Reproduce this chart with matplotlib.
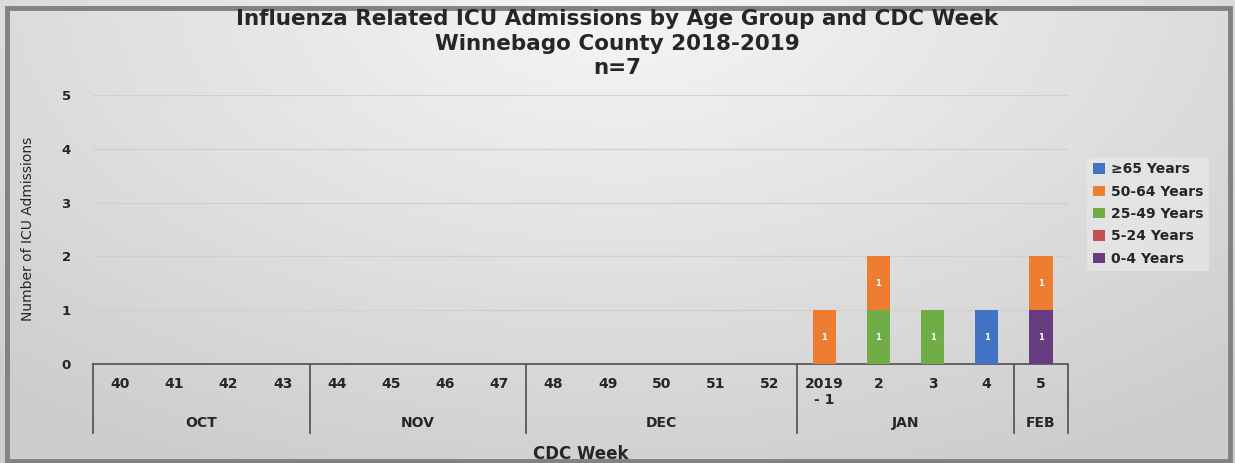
import numpy as np
import matplotlib.pyplot as plt
from matplotlib.patches import Rectangle
from matplotlib.transforms import blended_transform_factory

# weeks and months
weeks = ["40", "41", "42", "43", "44", "45", "46", "47", "48", "49", "50", "51", "52",
         "2019\n- 1", "2", "3", "4", "5"]
months = ["OCT", "NOV", "DEC", "JAN", "FEB"]
month_sizes = [4, 4, 5, 4, 1]

# series (stacking order bottom -> top)
age_0_4 = [0, 0, 0, 0, 0, 0, 0, 0, 0, 0, 0, 0, 0, 0, 0, 0, 0, 1]
age_5_24 = [0, 0, 0, 0, 0, 0, 0, 0, 0, 0, 0, 0, 0, 0, 0, 0, 0, 0]
age_25_49 = [0, 0, 0, 0, 0, 0, 0, 0, 0, 0, 0, 0, 0, 0, 1, 1, 0, 0]
age_50_64 = [0, 0, 0, 0, 0, 0, 0, 0, 0, 0, 0, 0, 0, 1, 1, 0, 0, 1]
age_65 = [0, 0, 0, 0, 0, 0, 0, 0, 0, 0, 0, 0, 0, 0, 0, 0, 1, 0]

series = [
    ("0-4 Years", age_0_4, "#673c80"),
    ("5-24 Years", age_5_24, "#c0504d"),
    ("25-49 Years", age_25_49, "#70ad47"),
    ("50-64 Years", age_50_64, "#ed7d31"),
    ("\u226565 Years", age_65, "#4472c4"),
]

W, H = 1235, 463
TXT = "#262626"
fig = plt.figure(figsize=(W / 100, H / 100), dpi=100)
fig.patch.set_facecolor("#c4c4c4")

# background gradient + frame
bg = fig.add_axes([0, 0, 1, 1], zorder=-10)
yy, xx = np.mgrid[0:1:200j, 0:1:400j]
d = np.sqrt(((xx - 0.5) / 0.76) ** 2 + (yy / 1.11) ** 2)
shade = 0.965 - 0.16 * np.clip(d, 0, 1)
bg.imshow(np.dstack([shade, shade, shade]), extent=[0, 1, 0, 1], origin="upper", aspect="auto")
bg.set_xlim(0, 1)
bg.set_ylim(0, 1)
bg.axis("off")
fig.patches.append(Rectangle((7 / W, 2.5 / H), 1223 / W, 453 / H, transform=fig.transFigure,
                             fill=False, edgecolor="#828282", linewidth=3.5, zorder=-5))

ax = fig.add_axes([93 / W, (H - 364) / H, 975 / W, 269 / H])
ax.set_facecolor("none")

x = np.arange(len(weeks))
bottom = np.zeros(len(weeks))
handles = []
for name, vals, col in series:
    vals = np.array(vals, dtype=float)
    b = ax.bar(x, vals, 0.43, bottom=bottom, color=col, label=name, zorder=3)
    handles.append(b)
    for xi, v, bt in zip(x, vals, bottom):
        if v > 0:
            ax.text(xi, bt + v / 2, f"{int(v)}", ha="center", va="center",
                    color="white", fontsize=6, fontweight="bold", zorder=4)
    bottom += vals

ax.set_xlim(-0.5, len(weeks) - 0.5)
ax.set_ylim(0, 5)
ax.set_yticks(range(6))
ax.set_yticklabels([str(i) for i in range(6)], fontsize=9.5, fontweight="bold", color=TXT)
ax.yaxis.grid(True, color="#d0d0d0", linewidth=0.9, zorder=0)
ax.tick_params(axis="y", length=0, pad=16)
ax.set_xticks(x)
ax.set_xticklabels(weeks, fontsize=10, fontweight="bold", color=TXT, va="top",
                   linespacing=1.25)
ax.tick_params(axis="x", length=0, pad=9)
for sp in ["top", "right", "left"]:
    ax.spines[sp].set_visible(False)
ax.spines["bottom"].set_color("#595959")
ax.spines["bottom"].set_linewidth(1.3)

# month level
tr = blended_transform_factory(ax.transData, ax.transAxes)
edges = np.concatenate([[0], np.cumsum(month_sizes)]) - 0.5
for e in edges:
    ax.plot([e, e], [0, -0.255], transform=tr, color="#595959", lw=1.3, clip_on=False)
for m, a, b in zip(months, edges[:-1], edges[1:]):
    ax.text((a + b) / 2, -0.22, m, transform=tr, ha="center", va="center",
            fontsize=10, fontweight="bold", color=TXT)

ax.text(0.5, -0.335, "CDC Week", transform=ax.transAxes, ha="center", va="center",
        fontsize=12, fontweight="bold", color=TXT)
fig.text(28 / W, 1 - 229 / H, "Number of ICU Admissions", rotation=90, ha="center",
         va="center", fontsize=10, color=TXT)

for txt, yp in [("Influenza Related ICU Admissions by Age Group and CDC Week", 19),
                ("Winnebago County 2018-2019", 44), ("n=7", 68)]:
    fig.text(0.5, 1 - yp / H, txt, ha="center", va="center", fontsize=15.5,
             fontweight="bold", color=TXT)

leg = fig.legend(handles[::-1], [s[0] for s in series][::-1], loc="center left",
                 bbox_to_anchor=(1080 / W, 1 - 214 / H), frameon=True,
                 prop={"weight": "bold", "size": 10}, handlelength=0.9, handleheight=0.8,
                 handletextpad=0.4, labelspacing=0.6, borderpad=0.4)
leg.get_frame().set_facecolor("#e6e6e6")
leg.get_frame().set_edgecolor("none")
for t in leg.get_texts():
    t.set_color(TXT)

fig.savefig("out.png", dpi=100, facecolor=fig.get_facecolor())
